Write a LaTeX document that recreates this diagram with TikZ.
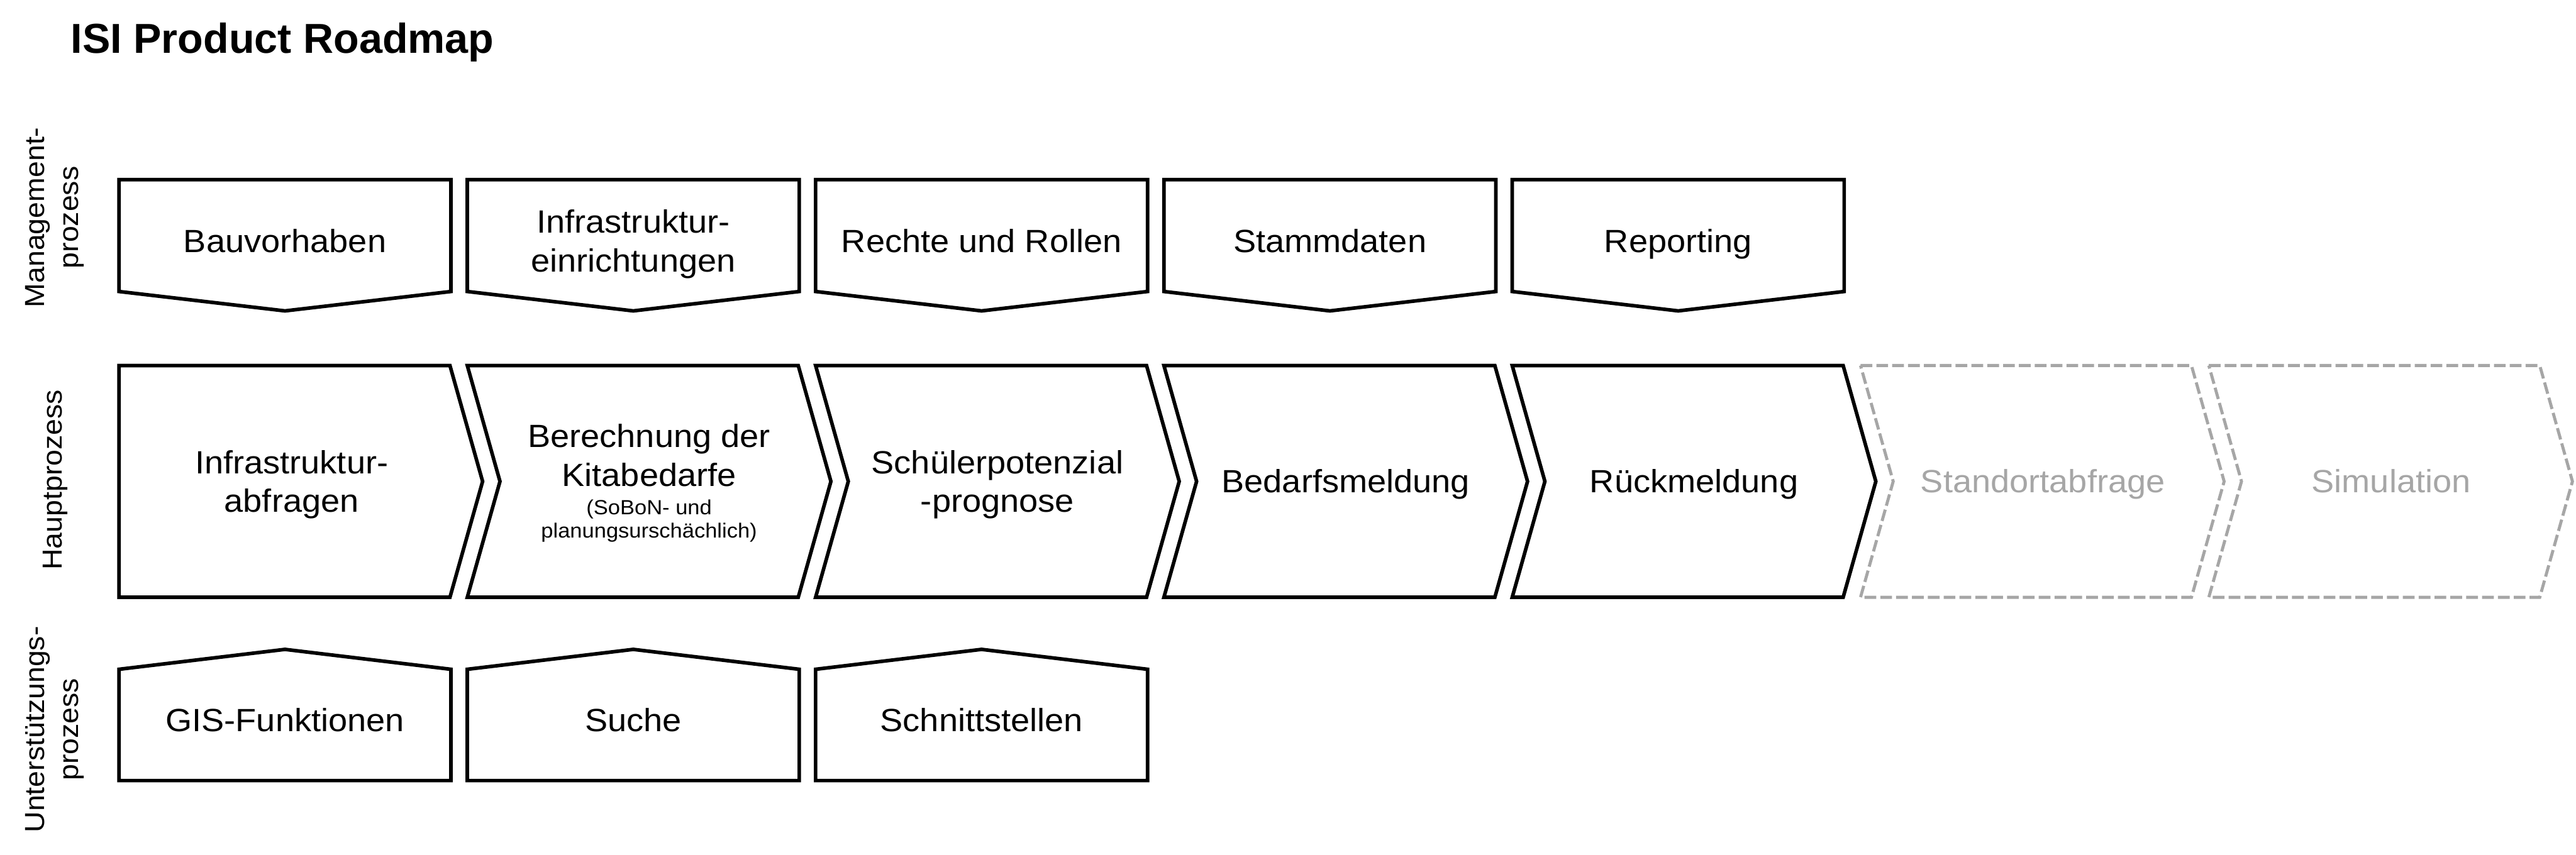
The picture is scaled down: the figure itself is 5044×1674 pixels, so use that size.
\documentclass[tikz,border=0pt]{standalone}
\usepackage{fontspec}
\setmainfont{Liberation Sans}
\newfontfamily\boxfont[FakeStretch=1.06]{Liberation Sans}
\definecolor{grayc}{HTML}{A6A6A6}
\begin{document}
\begin{tikzpicture}[x=0.01cm,y=-0.01cm,
  shp/.style={draw=black,line width=2pt,line join=miter,fill=white},
  gshp/.style={draw=grayc,line width=1.7pt,line join=miter,dash pattern=on 0.23cm off 0.08cm},
  txt/.style={inner sep=0pt,align=center,font=\boxfont\fontsize{17.9pt}{21.6pt}\selectfont,text height=0.45cm,text depth=0pt},
  txttwo/.style={txt,text height=1.21cm},
  smalltxt/.style={inner sep=0pt,align=center,font=\boxfont\fontsize{11.4pt}{12.8pt}\selectfont,text height=0.74cm,text depth=0pt},
  lab/.style={inner sep=0pt,align=center,rotate=90,font=\boxfont\fontsize{15.36pt}{19.06pt}\selectfont,text height=0.387cm,text depth=0pt},
  labtwo/.style={lab,text height=1.057cm}]
\useasboundingbox (0,0) rectangle (5044,1674);

% title
\node[anchor=base west,inner sep=0pt,font=\bfseries\fontsize{23.3pt}{28pt}\selectfont] (title) at (138,104) {ISI Product Roadmap};

% row labels
\node[labtwo] (labm) at (100.5,426) {Management-\\prozess};
\node[lab] (labh) at (101.5,940) {Hauptprozess};
\node[labtwo] (labu) at (100.5,1429) {Unterstützungs-\\prozess};

% management row
\foreach \i in {0,...,4} {
  \pgfmathsetmacro\L{233+682*\i}
  \draw[shp] (\L,352) -- ++(650,0) -- ++(0,219) -- ++(-325,38) -- ++(-325,-38) -- cycle;
}
\node[txt] (m1) at (558,471.5) {Bauvorhaben};
\node[txttwo] (m2) at (1240,471.5) {Infrastruktur-\\einrichtungen};
\node[txt] (m3) at (1922,471.5) {Rechte und Rollen};
\node[txt] (m4) at (2604,471.5) {Stammdaten};
\node[txt] (m5) at (3286,471.5) {Reporting};

% main row
\draw[shp] (233,716) -- (881,716) -- (945,943) -- (881,1170) -- (233,1170) -- cycle;
\foreach \i in {1,...,4} {
  \pgfmathsetmacro\L{233+682*\i}
  \draw[shp] (\L,716) -- ++(648,0) -- ++(64,227) -- ++(-64,227) -- ++(-648,0) -- ++(64,-227) -- cycle;
}
\foreach \i in {5,6} {
  \pgfmathsetmacro\L{233+682*\i}
  \draw[gshp] (\L,716) -- ++(648,0) -- ++(64,227) -- ++(-64,227) -- ++(-648,0) -- ++(64,-227) -- cycle;
}
\node[txttwo] (h1) at (571,943) {Infrastruktur-\\abfragen};
\node[txttwo] (h2) at (1271,892) {Berechnung der\\Kitabedarfe};
\node[smalltxt] (h2s) at (1271,1016) {(SoBoN- und\\planungsurschächlich)};
\node[txttwo] (h3) at (1953,943) {Schülerpotenzial\\-prognose};
\node[txt] (h4) at (2635,942.5) {Bedarfsmeldung};
\node[txt] (h5) at (3317,942.5) {Rückmeldung};
\node[txt,text=grayc] (h6) at (4000,942.5) {Standortabfrage};
\node[txt,text=grayc] (h7) at (4682,942.5) {Simulation};

% support row
\foreach \i in {0,...,2} {
  \pgfmathsetmacro\L{233+682*\i}
  \draw[shp] (\L,1311) -- ++(325,-39) -- ++(325,39) -- ++(0,218) -- ++(-650,0) -- cycle;
}
\node[txt] (u1) at (558,1410.5) {GIS-Funktionen};
\node[txt] (u2) at (1240,1410.5) {Suche};
\node[txt] (u3) at (1922,1410.5) {Schnittstellen};
\end{tikzpicture}
\end{document}
